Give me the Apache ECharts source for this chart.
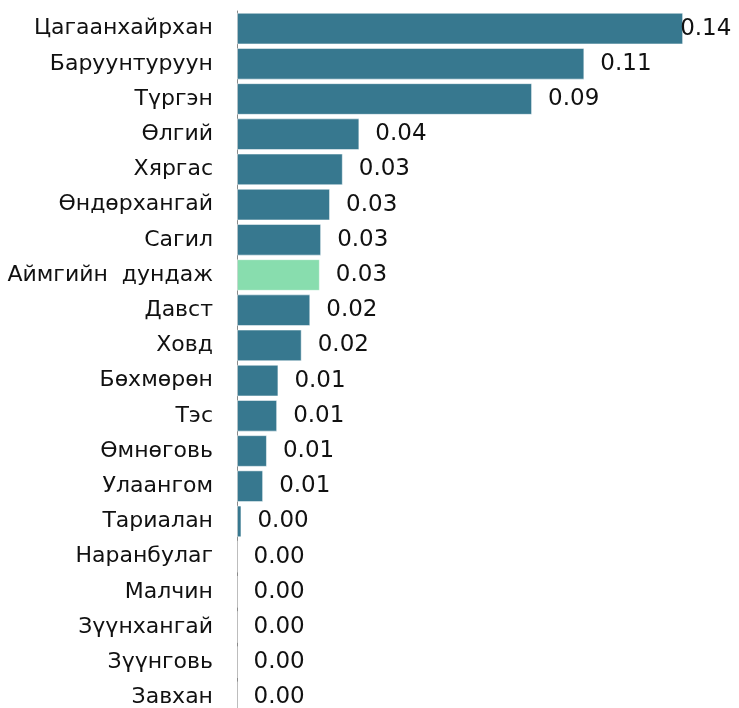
<!DOCTYPE html>
<html>
<head>
<meta charset="utf-8">
<script src="https://cdn.jsdelivr.net/npm/echarts@6/dist/echarts.min.js"></script>
<style>
html, body { margin: 0; padding: 0; background: #fff; }
#chart { width: 739px; height: 708px; }
</style>
</head>
<body>
<div id="chart"></div>
<script>
var categories = ['Цагаанхайрхан', 'Баруунтуруун', 'Түргэн', 'Өлгий', 'Хяргас', 'Өндөрхангай', 'Сагил',
    'Аймгийн  дундаж', 'Давст', 'Ховд', 'Бөхмөрөн', 'Тэс', 'Өмнөговь', 'Улаангом', 'Тариалан',
    'Наранбулаг', 'Малчин', 'Зүүнхангай', 'Зүүнговь', 'Завхан'];
var values = [0.140, 0.109, 0.0926, 0.0384, 0.0332, 0.0292, 0.0264,
    0.0260, 0.0230, 0.0203, 0.0130, 0.0126, 0.0094, 0.0082, 0.0014,
    0, 0, 0, 0, 0];
var averageName = 'Аймгийн  дундаж';

var barColor = '#37788f';
var avgColor = '#88ddae';

var myChart = echarts.init(document.getElementById('chart'));

var seriesData = values.map(function (v, i) {
    var item = { value: v, itemStyle: { color: categories[i] === averageName ? avgColor : barColor } };
    if (i === 0) {
        item.label = { distance: -3 };
    }
    return item;
});

option = {
    animation: false,
    grid: { left: 237, right: 24, top: 11, height: 704, outerBoundsMode: 'none' },
    xAxis: {
        type: 'value',
        min: 0,
        max: 0.15,
        show: false
    },
    yAxis: {
        type: 'category',
        data: categories,
        inverse: true,
        axisLine: { show: true, lineStyle: { color: '#8a8a8a', width: 1 } },
        axisTick: { show: false },
        axisLabel: {
            margin: 24,
            color: '#111',
            fontFamily: 'DejaVu Sans',
            fontSize: 22
        }
    },
    series: [{
        type: 'bar',
        data: seriesData,
        barCategoryGap: '10%',
        itemStyle: { borderColor: 'rgba(255,255,255,0.5)', borderWidth: 1 },
        label: {
            show: true,
            position: 'right',
            distance: 16,
            color: '#111',
            fontFamily: 'DejaVu Sans',
            fontSize: 23,
            formatter: function (p) { return p.value.toFixed(2); }
        }
    }]
};

myChart.setOption(option);
</script>
</body>
</html>
